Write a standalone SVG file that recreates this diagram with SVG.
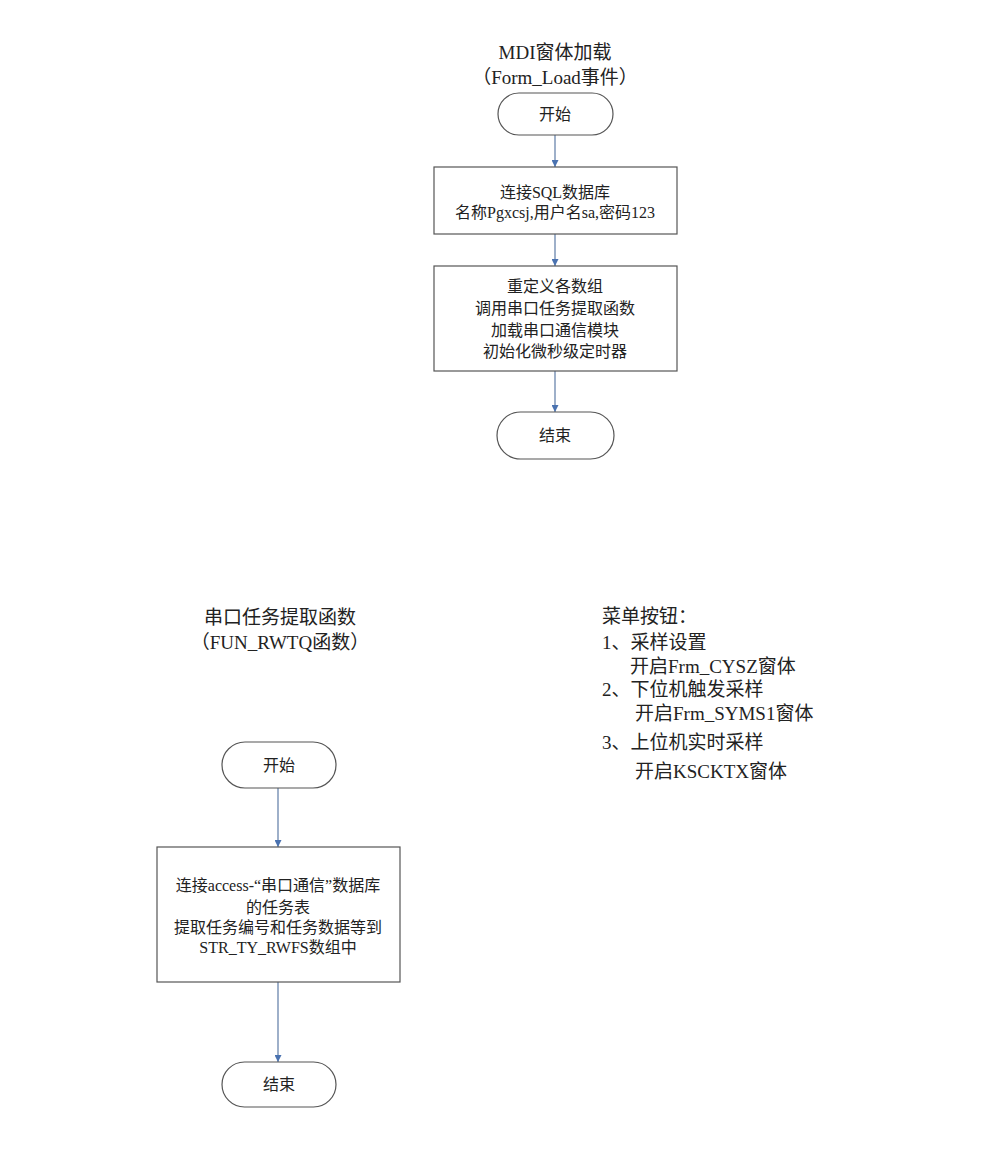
<svg xmlns="http://www.w3.org/2000/svg" width="1000" height="1155" viewBox="0 0 1000 1155">
<style>
text{font-family:"Liberation Serif","Noto Sans CJK SC",serif;fill:#222;}
.t{font-size:19px;text-anchor:middle;}
.b{font-size:16px;text-anchor:middle;}
.m{font-size:19px;}
.node{fill:#fff;stroke:#555;stroke-width:1.2;}
.c{stroke:#6a86ad;stroke-width:1.3;fill:none;marker-end:url(#ah);}
</style>
<defs>
<marker id="ah" viewBox="0 0 10 10" refX="10" refY="5" markerWidth="8" markerHeight="7" markerUnits="userSpaceOnUse" orient="auto">
<path d="M0,0 L10,5 L0,10 z" fill="#4a72b0"/>
</marker>
</defs>
<rect width="1000" height="1155" fill="#fff"/>

<g id="title1">
<text class="t" x="555" y="59">MDI窗体加载</text>
<text class="t" x="555" y="84">（Form_Load事件）</text>
</g>

<g id="connectors">
<line class="c" x1="555" y1="135" x2="555" y2="167"/>
<line class="c" x1="555" y1="234" x2="555" y2="266"/>
<line class="c" x1="555" y1="371" x2="555" y2="412"/>
<line class="c" x1="278" y1="788" x2="278" y2="847"/>
<line class="c" x1="278" y1="982" x2="278" y2="1062"/>
</g>

<g id="start1">
<rect class="node" x="498" y="93" width="115" height="42" rx="21"/>
<text class="b" x="555" y="120">开始</text>
</g>
<g id="box1">
<rect class="node" x="434" y="167" width="243" height="67"/>
<text class="b" x="555" y="198">连接SQL数据库</text>
<text class="b" x="555" y="218">名称Pgxcsj,用户名sa,密码123</text>
</g>
<g id="box2">
<rect class="node" x="434" y="266" width="243" height="105"/>
<text class="b" x="555" y="292">重定义各数组</text>
<text class="b" x="555" y="314">调用串口任务提取函数</text>
<text class="b" x="555" y="336">加载串口通信模块</text>
<text class="b" x="555" y="357">初始化微秒级定时器</text>
</g>
<g id="end1">
<rect class="node" x="497" y="412" width="117" height="47" rx="23.5"/>
<text class="b" x="555" y="441">结束</text>
</g>

<g id="title2">
<text class="t" x="280" y="624">串口任务提取函数</text>
<text class="t" x="280" y="649">（FUN_RWTQ函数）</text>
</g>

<g id="menu">
<text class="m" x="602" y="623">菜单按钮：</text>
<text class="m" x="602" y="649">1、采样设置</text>
<text class="m" x="630" y="673">开启Frm_CYSZ窗体</text>
<text class="m" x="602" y="696">2、下位机触发采样</text>
<text class="m" x="635" y="720">开启Frm_SYMS1窗体</text>
<text class="m" x="602" y="749">3、上位机实时采样</text>
<text class="m" x="635" y="778">开启KSCKTX窗体</text>
</g>

<g id="start2">
<rect class="node" x="222" y="742" width="114" height="46" rx="23"/>
<text class="b" x="279" y="771">开始</text>
</g>
<g id="box3">
<rect class="node" x="157" y="847" width="243" height="135"/>
<text class="b" x="278" y="891">连接access-“串口通信”数据库</text>
<text class="b" x="278" y="913">的任务表</text>
<text class="b" x="278" y="933">提取任务编号和任务数据等到</text>
<text class="b" x="278" y="953">STR_TY_RWFS数组中</text>
</g>
<g id="end2">
<rect class="node" x="222" y="1062" width="114" height="45" rx="22.5"/>
<text class="b" x="279" y="1090">结束</text>
</g>
</svg>
